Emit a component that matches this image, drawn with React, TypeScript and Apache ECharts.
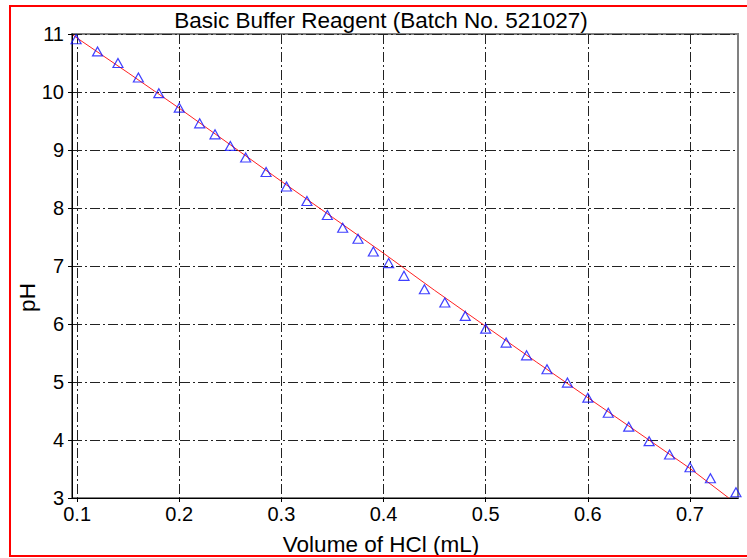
import React, { useEffect, useRef } from "react";
import * as echarts from "echarts";

const chartTitle = "Basic Buffer Reagent (Batch No. 521027)";
const xAxisName = "Volume of HCl (mL)";
const yAxisName = "pH";

const xTickValues = [0.1, 0.2, 0.3, 0.4, 0.5, 0.6, 0.7];
const yTickValues = [3, 4, 5, 6, 7, 8, 9, 10, 11];

// measured points (triangles)
const volume = [
  0.099, 0.12, 0.14, 0.16, 0.18, 0.2, 0.22, 0.235, 0.25, 0.265, 0.285, 0.305,
  0.325, 0.345, 0.36, 0.375, 0.39, 0.405, 0.42, 0.44, 0.46, 0.48, 0.5, 0.52,
  0.54, 0.56, 0.58, 0.6, 0.62, 0.64, 0.66, 0.68, 0.7, 0.72, 0.745,
];
const ph = [
  10.91, 10.7, 10.5, 10.25, 9.98, 9.73, 9.46, 9.27, 9.07, 8.87, 8.62, 8.37,
  8.12, 7.88, 7.66, 7.47, 7.25, 7.05, 6.83, 6.6, 6.37, 6.14, 5.92, 5.68, 5.46,
  5.22, 4.99, 4.73, 4.47, 4.23, 3.98, 3.75, 3.53, 3.34, 3.1,
];

// fitted curve (red line)
const fitVolume = [
  0.096, 0.1, 0.15, 0.2, 0.25, 0.3, 0.35, 0.4, 0.45, 0.5, 0.55, 0.6, 0.65,
  0.7, 0.738,
];
const fitPh = [
  10.98, 10.93, 10.33, 9.72, 9.09, 8.46, 7.84, 7.22, 6.58, 5.96, 5.34, 4.73,
  4.12, 3.51, 3.0,
];

const FONT = "'Liberation Sans', Arial, sans-serif";

export default function App() {
  const ref = useRef<HTMLDivElement>(null);

  useEffect(() => {
    if (!ref.current) return;
    const chart = echarts.init(ref.current, undefined, { renderer: "svg" });

    const gridDash = [10, 3, 2, 3];
    const frameStyle = { stroke: "#ff0000", lineWidth: 2 };

    chart.setOption({
      animation: false,
      backgroundColor: "#ffffff",
      grid: {
        left: 72,
        right: 9,
        top: 34,
        bottom: 60,
        show: true,
        borderColor: "#808080",
        borderWidth: 2,
        backgroundColor: "#ffffff",
      },
      xAxis: {
        type: "value",
        min: 0.095,
        max: 0.747,
        axisLine: { show: true, onZero: false, lineStyle: { color: "#000", width: 1 } },
        axisTick: {
          show: true,
          length: 4,
          inside: false,
          customValues: xTickValues,
          lineStyle: { color: "#000" },
        },
        axisLabel: {
          customValues: xTickValues,
          fontSize: 20,
          fontFamily: FONT,
          color: "#000",
          margin: 6,
          formatter: (v: number) => {
            const r = Math.round(v * 10) / 10;
            return Math.abs(r - v) < 1e-6 ? r.toFixed(1) : "";
          },
        },
        splitLine: {
          show: true,
          lineStyle: { color: "#222", width: 1, type: gridDash },
        },
      },
      yAxis: {
        type: "value",
        min: yTickValues[0],
        max: yTickValues[yTickValues.length - 1],
        interval: 1,
        axisLine: { show: true, onZero: false, lineStyle: { color: "#000", width: 1 } },
        axisTick: { show: true, length: 4, inside: false, lineStyle: { color: "#000" } },
        axisLabel: {
          fontSize: 20,
          fontFamily: FONT,
          color: "#000",
          margin: 8,
        },
        splitLine: {
          show: true,
          lineStyle: { color: "#222", width: 1, type: gridDash },
        },
      },
      graphic: [
        {
          type: "line",
          shape: { x1: 10, y1: 6, x2: 747, y2: 6 },
          style: frameStyle,
          silent: true,
          z: 100,
        },
        {
          type: "line",
          shape: { x1: 10, y1: 556, x2: 747, y2: 556 },
          style: frameStyle,
          silent: true,
          z: 100,
        },
        {
          type: "line",
          shape: { x1: 10, y1: 5, x2: 10, y2: 557 },
          style: frameStyle,
          silent: true,
          z: 100,
        },
        {
          type: "text",
          x: 381,
          y: 20,
          style: {
            text: chartTitle,
            fontSize: 22.5,
            fontFamily: FONT,
            fill: "#000",
            textAlign: "center",
            textVerticalAlign: "middle",
          },
        },
        {
          type: "text",
          x: 381,
          y: 544,
          style: {
            text: xAxisName,
            fontSize: 22.5,
            fontFamily: FONT,
            fill: "#000",
            textAlign: "center",
            textVerticalAlign: "middle",
          },
        },
        {
          type: "text",
          x: 27.5,
          y: 297.5,
          rotation: Math.PI / 2,
          style: {
            text: yAxisName,
            fontSize: 22.5,
            fontFamily: FONT,
            fill: "#000",
            textAlign: "center",
            textVerticalAlign: "middle",
          },
        },
      ],
      series: [
        {
          name: "fit",
          type: "line",
          data: fitVolume.map((v, i) => [v, fitPh[i]]),
          showSymbol: false,
          symbol: "none",
          smooth: false,
          clip: true,
          lineStyle: { color: "#ff2020", width: 1 },
          z: 3,
        },
        {
          name: "measured",
          type: "scatter",
          data: volume.map((v, i) => [v, ph[i]]),
          symbol: "triangle",
          symbolSize: [10, 9],
          itemStyle: { color: "rgba(0,0,0,0)", borderColor: "#1010ff", borderWidth: 1.2 },
          z: 4,
        },
      ],
    });

    return () => chart.dispose();
  }, []);

  return (
    <div
      ref={ref}
      style={{ position: "fixed", left: 0, top: 0, width: 747, height: 558 }}
    />
  );
}
